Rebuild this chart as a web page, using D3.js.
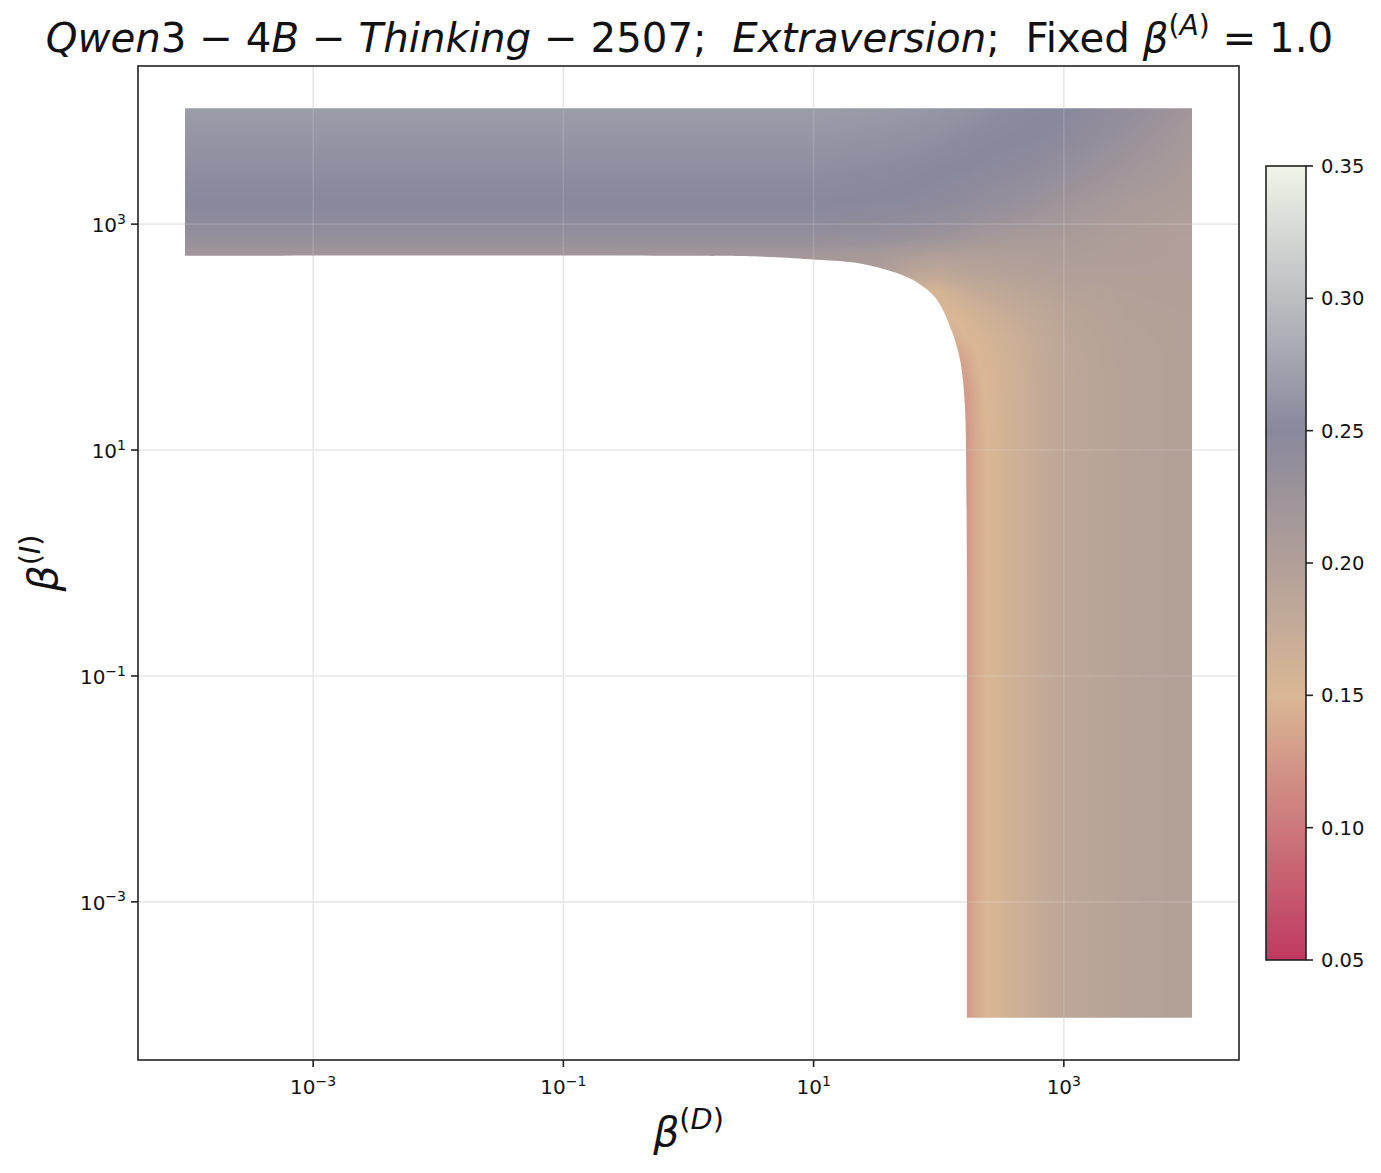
<!DOCTYPE html>
<html><head><meta charset="utf-8">
<script src="https://cdn.jsdelivr.net/npm/d3@7/dist/d3.min.js"></script>
<style>body{margin:0;background:#fff} svg{display:block} text{font-family:"DejaVu Sans",sans-serif;white-space:pre}</style>
</head><body>
<svg id="chart" width="1381" height="1173"></svg>
<script>
// ---------------- DATA ----------------
// grid nodes (log10 of beta) for the heat field
const betaDExp = [-4, 1.0, 1.5, 1.8, 2.0, 2.15, 2.226, 2.3, 2.39, 2.5, 2.75, 3.0, 3.5, 4.0];
const betaIExp = [-4, 1.0, 1.5, 1.8, 2.0, 2.2, 2.4, 2.55, 2.72, 2.86, 3.0, 3.2, 3.5, 3.75, 4.0];
// values, one row per betaIExp node (bottom to top), one column per betaDExp node
const row_m4   = [0.12, 0.12, 0.12, 0.12, 0.12, 0.12, 0.125, 0.14, 0.15, 0.157, 0.172, 0.185, 0.195, 0.198];
const row_1_0  = [0.12, 0.12, 0.12, 0.12, 0.12, 0.12, 0.125, 0.14, 0.15, 0.157, 0.172, 0.185, 0.195, 0.198];
const row_1_5  = [0.12, 0.12, 0.12, 0.12, 0.12, 0.122, 0.128, 0.142, 0.151, 0.158, 0.172, 0.185, 0.195, 0.198];
const row_1_8  = [0.13, 0.13, 0.13, 0.13, 0.13, 0.13, 0.138, 0.148, 0.153, 0.159, 0.173, 0.186, 0.195, 0.198];
const row_2_0  = [0.14, 0.14, 0.14, 0.14, 0.14, 0.145, 0.15, 0.153, 0.157, 0.162, 0.175, 0.187, 0.196, 0.198];
const row_2_2  = [0.15, 0.15, 0.15, 0.15, 0.148, 0.152, 0.156, 0.16, 0.165, 0.17, 0.18, 0.19, 0.197, 0.198];
const row_2_4  = [0.17, 0.17, 0.17, 0.16, 0.155, 0.166, 0.172, 0.176, 0.179, 0.183, 0.19, 0.195, 0.198, 0.199];
const row_2_55 = [0.21, 0.21, 0.205, 0.185, 0.182, 0.188, 0.19, 0.191, 0.192, 0.194, 0.197, 0.199, 0.2, 0.2];
const row_2_72 = [0.218, 0.217, 0.212, 0.205, 0.2, 0.199, 0.199, 0.2, 0.2, 0.201, 0.203, 0.205, 0.202, 0.2];
const row_2_86 = [0.233, 0.233, 0.23, 0.226, 0.222, 0.219, 0.217, 0.215, 0.213, 0.212, 0.21, 0.208, 0.203, 0.2];
const row_3_0  = [0.243, 0.243, 0.241, 0.238, 0.235, 0.232, 0.23, 0.228, 0.226, 0.224, 0.219, 0.214, 0.206, 0.202];
const row_3_2  = [0.25, 0.25, 0.249, 0.247, 0.245, 0.243, 0.242, 0.24, 0.238, 0.236, 0.23, 0.223, 0.211, 0.205];
const row_3_5  = [0.256, 0.256, 0.254, 0.252, 0.25, 0.249, 0.249, 0.248, 0.247, 0.246, 0.242, 0.236, 0.222, 0.21];
const row_3_75 = [0.262, 0.262, 0.26, 0.258, 0.256, 0.254, 0.253, 0.252, 0.251, 0.25, 0.249, 0.245, 0.23, 0.215];
const row_4    = [0.268, 0.268, 0.266, 0.264, 0.262, 0.26, 0.259, 0.258, 0.256, 0.254, 0.251, 0.25, 0.238, 0.22];
const valueRows = [row_m4, row_1_0, row_1_5, row_1_8, row_2_0, row_2_2, row_2_4, row_2_55, row_2_72,
                   row_2_86, row_3_0, row_3_2, row_3_5, row_3_75, row_4];

// data range of the sweep
const betaRange = [1e-4, 1e4];
// edge of the valid (non-NaN) region, from top-left going round the corner and down
const boundaryBetaD = [0.90, 3.94, 9.35, 23.5, 43, 62.2, 90, 108, 123, 135, 148, 156, 162, 165, 168];
const boundaryBetaI = [525, 515, 489, 449, 379, 320, 236, 174, 124, 94, 63, 42, 24.2, 12.3, 0.87];

const axisTicks = [1e-3, 1e-1, 1e1, 1e3];
const axisTickExp = ["−3", "−1", "1", "3"];
const cbarTicks = [0.05, 0.10, 0.15, 0.20, 0.25, 0.30, 0.35];
const cbarTickLabels = ["0.05", "0.10", "0.15", "0.20", "0.25", "0.30", "0.35"];
const colorStops = [0.05, 0.15, 0.25, 0.35];
const colorRange = ["#bf3961", "#d9b795", "#89889c", "#f0f4e8"];

// ---------------- LAYOUT ----------------
const L = 138, R = 1239, T = 66, B = 1060;
const PAD = 0.4, CELL = 0.025;
const svg = d3.select("#chart");
const x = d3.scaleLog().domain([10 ** (-4 - PAD), 10 ** (4 + PAD)]).range([L, R]);
const y = d3.scaleLog().domain([10 ** (-4 - PAD), 10 ** (4 + PAD)]).range([B, T]);
const cmap = d3.scaleLinear().domain(colorStops).range(colorRange).clamp(true);

// grid under heatmap
const gridG = svg.append("g");
axisTicks.forEach(t => {
  gridG.append("line").attr("x1", x(t)).attr("x2", x(t)).attr("y1", T).attr("y2", B)
    .attr("stroke", "#e8e8e8").attr("stroke-width", 1.6);
  gridG.append("line").attr("y1", y(t)).attr("y2", y(t)).attr("x1", L).attr("x2", R)
    .attr("stroke", "#e8e8e8").attr("stroke-width", 1.6);
});

// heat field
const W = R - L, H = B - T;
const canvas = document.createElement("canvas");
canvas.width = W; canvas.height = H;
const ctx = canvas.getContext("2d");
const img = ctx.createImageData(W, H);
const lut = [];
for (let k = 0; k <= 1000; k++) { const c = d3.rgb(cmap(0.05 + 0.3 * k / 1000)); lut.push([c.r, c.g, c.b]); }
const lo = Math.log10(betaRange[0]) - CELL, hi = Math.log10(betaRange[1]) + CELL;
function locate(arr, v) {
  let i = d3.bisectRight(arr, v) - 1;
  i = Math.max(0, Math.min(arr.length - 2, i));
  let t = (v - arr[i]) / (arr[i + 1] - arr[i]);
  t = Math.max(0, Math.min(1, t));
  return [i, t];
}
for (let j = 0; j < H; j++) {
  const ly = Math.log10(y.invert(T + j + 0.5));
  if (ly < lo || ly > hi) continue;
  const [iy, ty] = locate(betaIExp, ly);
  const r0 = valueRows[iy], r1 = valueRows[iy + 1];
  for (let i = 0; i < W; i++) {
    const lx = Math.log10(x.invert(L + i + 0.5));
    if (lx < lo || lx > hi) continue;
    const [ix, tx] = locate(betaDExp, lx);
    const a = r0[ix] * (1 - tx) + r0[ix + 1] * tx;
    const b = r1[ix] * (1 - tx) + r1[ix + 1] * tx;
    const v = a * (1 - ty) + b * ty;
    const c = lut[Math.max(0, Math.min(1000, Math.round((v - 0.05) / 0.3 * 1000)))];
    const p = (j * W + i) * 4;
    img.data[p] = c[0]; img.data[p + 1] = c[1]; img.data[p + 2] = c[2]; img.data[p + 3] = 255;
  }
}
ctx.putImageData(img, 0, 0);

// clip to the valid region: straight outer edges + smooth boundary curve
const xmin = 10 ** lo, xmax = 10 ** hi;
const outer = [[xmin, xmax], [xmax, xmax], [xmax, xmin], [boundaryBetaD[boundaryBetaD.length - 1], xmin]];
const edge = [];
for (let k = boundaryBetaD.length - 1; k >= 0; k--) edge.push([boundaryBetaD[k], boundaryBetaI[k]]);
edge.push([xmin, boundaryBetaI[0]]);
const straight = d3.line().x(d => x(d[0])).y(d => y(d[1]));
const smooth = d3.line().x(d => x(d[0])).y(d => y(d[1])).curve(d3.curveCatmullRom.alpha(0.5));
const clipD = straight(outer) + smooth(edge).replace(/^M/, "L") + "Z";
const defs = svg.append("defs");
defs.append("clipPath").attr("id", "valid").append("path").attr("d", clipD);
svg.append("image").attr("href", canvas.toDataURL()).attr("x", L).attr("y", T)
  .attr("width", W).attr("height", H).attr("clip-path", "url(#valid)");

// grid over heatmap (faint)
const gridTop = svg.append("g").attr("clip-path", "url(#valid)");
axisTicks.forEach(t => {
  gridTop.append("line").attr("x1", x(t)).attr("x2", x(t)).attr("y1", T).attr("y2", B)
    .attr("stroke", "#fff").attr("stroke-opacity", 0.13).attr("stroke-width", 1.6);
  gridTop.append("line").attr("y1", y(t)).attr("y2", y(t)).attr("x1", L).attr("x2", R)
    .attr("stroke", "#fff").attr("stroke-opacity", 0.13).attr("stroke-width", 1.6);
});

// frame
svg.append("rect").attr("x", L).attr("y", T).attr("width", W).attr("height", H)
  .attr("fill", "none").attr("stroke", "#222").attr("stroke-width", 1.6);

// math text helper
function mathText(sel, segs, fs) {
  let up = false;
  segs.forEach(s => {
    const sup = !!s.sup;
    const ts = sel.append("tspan").text(s.t);
    if (s.it) ts.attr("font-style", "italic");
    if (sup) ts.attr("font-size", fs * 0.7);
    if (sup && !up) ts.attr("dy", -0.42 * fs);
    if (!sup && up) ts.attr("dy", 0.42 * fs);
    up = sup;
  });
}

const TF = 20;
// x and y ticks
axisTicks.forEach((t, k) => {
  svg.append("line").attr("x1", x(t)).attr("x2", x(t)).attr("y1", B).attr("y2", B + 7)
    .attr("stroke", "#222").attr("stroke-width", 1.6);
  const tx = svg.append("text").attr("x", x(t)).attr("y", B + 34).attr("text-anchor", "middle")
    .attr("font-size", TF).attr("fill", "#111");
  mathText(tx, [{t: "10"}, {t: axisTickExp[k], sup: true}], TF);
  svg.append("line").attr("y1", y(t)).attr("y2", y(t)).attr("x1", L - 7).attr("x2", L)
    .attr("stroke", "#222").attr("stroke-width", 1.6);
  const ty = svg.append("text").attr("x", L - 12).attr("y", y(t) + 8).attr("text-anchor", "end")
    .attr("font-size", TF).attr("fill", "#111");
  mathText(ty, [{t: "10"}, {t: axisTickExp[k], sup: true}], TF);
});

// axis labels
const LF = 41;
const xl = svg.append("text").attr("x", (L + R) / 2).attr("y", 1146).attr("text-anchor", "middle")
  .attr("font-size", LF).attr("fill", "#111");
mathText(xl, [{t: "β", it: true}, {t: "(", sup: true}, {t: "D", it: true, sup: true}, {t: ")", sup: true}], LF);
const yl = svg.append("text").attr("transform", `translate(57,${(T + B) / 2}) rotate(-90)`)
  .attr("text-anchor", "middle").attr("font-size", LF).attr("fill", "#111");
mathText(yl, [{t: "β", it: true}, {t: "(", sup: true}, {t: "I", it: true, sup: true}, {t: ")", sup: true}], LF);

// title
const TTF = 40.3;
const title = svg.append("text").attr("x", (L + R) / 2 + 1).attr("y", 52).attr("text-anchor", "middle")
  .attr("font-size", TTF).attr("fill", "#111");
mathText(title, [
  {t: "Qwen", it: true}, {t: "3 − 4"}, {t: "B", it: true}, {t: " − "}, {t: "Thinking", it: true},
  {t: " − 2507;  "}, {t: "Extraversion", it: true}, {t: ";  Fixed "}, {t: "β", it: true},
  {t: "(", sup: true}, {t: "A", it: true, sup: true}, {t: ")", sup: true}, {t: " = 1.0"}
], TTF);

// colorbar
const CX0 = 1266, CX1 = 1306, CY0 = 166, CY1 = 960;
const cy = d3.scaleLinear().domain([0.05, 0.35]).range([CY1, CY0]);
const grad = defs.append("linearGradient").attr("id", "cbar").attr("x1", 0).attr("x2", 0).attr("y1", 1).attr("y2", 0);
colorStops.forEach(v => grad.append("stop").attr("offset", (v - 0.05) / 0.3).attr("stop-color", cmap(v)));
svg.append("rect").attr("x", CX0).attr("y", CY0).attr("width", CX1 - CX0).attr("height", CY1 - CY0)
  .attr("fill", "url(#cbar)").attr("stroke", "#222").attr("stroke-width", 1.6);
cbarTicks.forEach((v, k) => {
  svg.append("line").attr("x1", CX1).attr("x2", CX1 + 7).attr("y1", cy(v)).attr("y2", cy(v))
    .attr("stroke", "#222").attr("stroke-width", 1.6);
  svg.append("text").attr("x", CX1 + 15).attr("y", cy(v) + 7).attr("font-size", TF - 0.5)
    .attr("fill", "#111").text(cbarTickLabels[k]);
});
</script>
</body></html>
